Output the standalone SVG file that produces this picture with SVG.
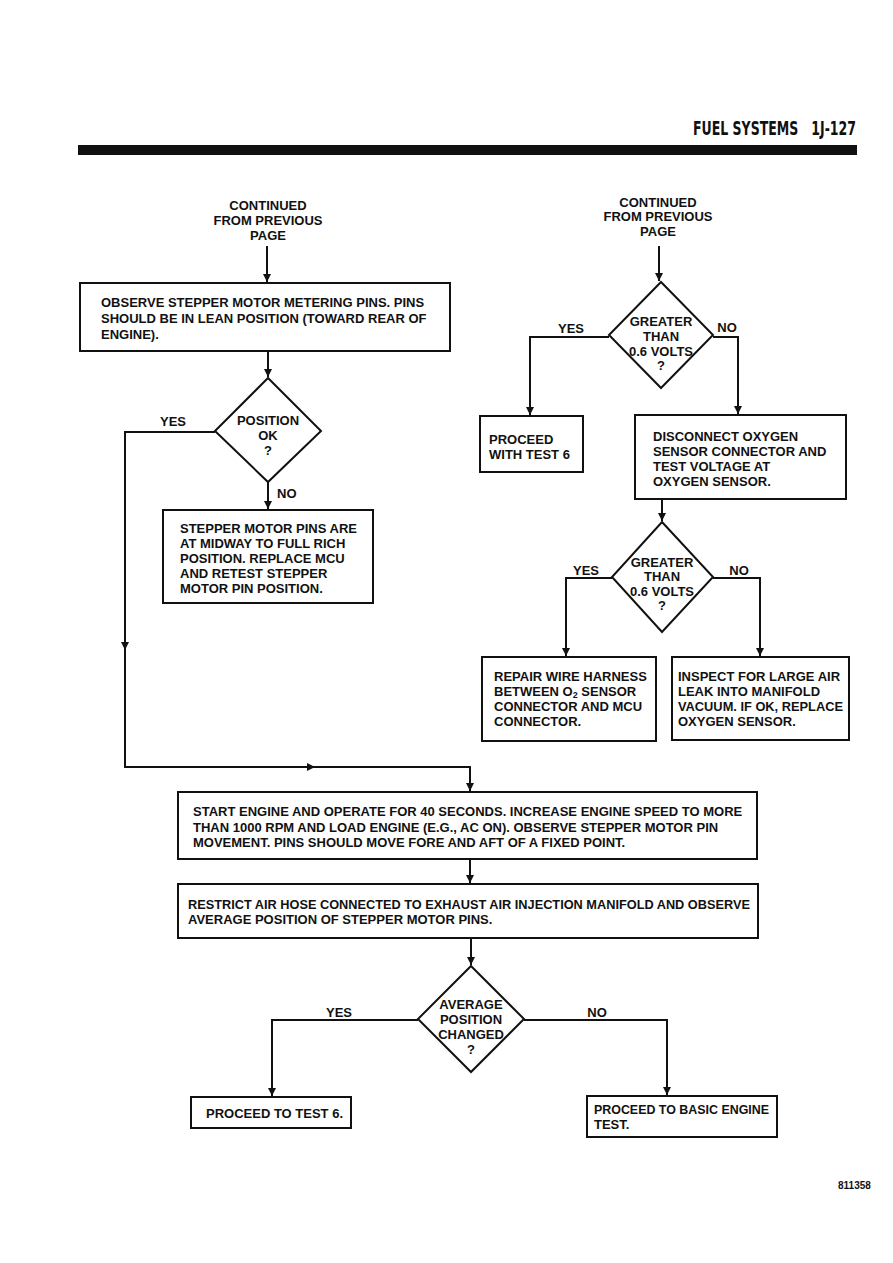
<svg xmlns="http://www.w3.org/2000/svg" width="893" height="1263" viewBox="0 0 893 1263">
<style>
text{font-family:"Liberation Sans",Arial,sans-serif;font-weight:bold;font-size:13px;fill:#111}
.c{text-anchor:middle}
.box{fill:#fff;stroke:#111;stroke-width:2}
.ln{fill:none;stroke:#111;stroke-width:2}
.hd{font-family:"DejaVu Sans Condensed","DejaVu Sans",sans-serif;font-size:15px;font-weight:bold;white-space:pre}
</style>
<defs>
<marker id="ah" markerWidth="8" markerHeight="10" refX="8" refY="5" orient="auto" markerUnits="userSpaceOnUse">
<path d="M0,1 L8,5 L0,9 Z" fill="#111"/>
</marker>
</defs>
<rect width="893" height="1263" fill="#fff"/>
<g id="header">
<text class="hd" transform="translate(693,135) scale(1,1.33)" x="0" y="0" textLength="163" lengthAdjust="spacingAndGlyphs" xml:space="preserve">FUEL SYSTEMS   1J-127</text>
<rect x="78" y="145" width="779" height="10" fill="#111"/>
</g>
<g id="connectors">
<path class="ln" d="M267,246 V282" marker-end="url(#ah)"/>
<path class="ln" d="M268,351 V377" marker-end="url(#ah)"/>
<path class="ln" d="M268,482 V509" marker-end="url(#ah)"/>
<path class="ln" d="M215,432 H125 V650" marker-end="url(#ah)"/>
<path class="ln" d="M125,645 V767 H315" marker-end="url(#ah)"/>
<path class="ln" d="M310,767 H470 V791" marker-end="url(#ah)"/>
<path class="ln" d="M659,246 V281" marker-end="url(#ah)"/>
<path class="ln" d="M609,337 H530 V415" marker-end="url(#ah)"/>
<path class="ln" d="M713,337 H738 V414" marker-end="url(#ah)"/>
<path class="ln" d="M662,499 V521" marker-end="url(#ah)"/>
<path class="ln" d="M612,578 H566 V656" marker-end="url(#ah)"/>
<path class="ln" d="M713,578 H760 V656" marker-end="url(#ah)"/>
<path class="ln" d="M470,859 V883" marker-end="url(#ah)"/>
<path class="ln" d="M471,938 V965" marker-end="url(#ah)"/>
<path class="ln" d="M418,1020 H272 V1096" marker-end="url(#ah)"/>
<path class="ln" d="M524,1020 H667 V1095" marker-end="url(#ah)"/>
<text x="173" y="426" class="c">YES</text>
<text x="277" y="498">NO</text>
<text x="571" y="333" class="c">YES</text>
<text x="727" y="332" class="c">NO</text>
<text x="586" y="575" class="c">YES</text>
<text x="739" y="575" class="c">NO</text>
<text x="339" y="1017" class="c">YES</text>
<text x="597" y="1017" class="c">NO</text>
</g>
<g id="start-left">
<text class="c" x="268" y="210">CONTINUED</text>
<text class="c" x="268" y="225">FROM PREVIOUS</text>
<text class="c" x="268" y="240">PAGE</text>
</g>
<g id="start-right">
<text class="c" x="658" y="207">CONTINUED</text>
<text class="c" x="658" y="221">FROM PREVIOUS</text>
<text class="c" x="658" y="236">PAGE</text>
</g>
<g id="observe-pins">
<rect class="box" x="80" y="283" width="370" height="68"/>
<text x="101" y="307">OBSERVE STEPPER MOTOR METERING PINS. PINS</text>
<text x="101" y="323">SHOULD BE IN LEAN POSITION (TOWARD REAR OF</text>
<text x="101" y="339">ENGINE).</text>
</g>
<g id="position-ok">
<path class="box" d="M268,378 L321,431 L268,482 L215,431 Z"/>
<text class="c" x="268" y="425">POSITION</text>
<text class="c" x="268" y="440">OK</text>
<text class="c" x="268" y="455">?</text>
</g>
<g id="replace-mcu">
<rect class="box" x="163" y="510" width="210" height="93"/>
<text x="180" y="533">STEPPER MOTOR PINS ARE</text>
<text x="180" y="548">AT MIDWAY TO FULL RICH</text>
<text x="180" y="563">POSITION. REPLACE MCU</text>
<text x="180" y="578">AND RETEST STEPPER</text>
<text x="180" y="593">MOTOR PIN POSITION.</text>
</g>
<g id="greater-1">
<path class="box" d="M661,282 L713,335 L661,388 L609,335 Z"/>
<text class="c" x="661" y="326">GREATER</text>
<text class="c" x="661" y="341">THAN</text>
<text class="c" x="661" y="356">0.6 VOLTS</text>
<text class="c" x="661" y="370">?</text>
</g>
<g id="proceed-test6-a">
<rect class="box" x="480" y="416" width="103" height="56"/>
<text x="489" y="444">PROCEED</text>
<text x="489" y="459">WITH TEST 6</text>
</g>
<g id="disconnect">
<rect class="box" x="635" y="415" width="211" height="84"/>
<text x="653" y="441">DISCONNECT OXYGEN</text>
<text x="653" y="456">SENSOR CONNECTOR AND</text>
<text x="653" y="471">TEST VOLTAGE AT</text>
<text x="653" y="486">OXYGEN SENSOR.</text>
</g>
<g id="greater-2">
<path class="box" d="M662,522 L713,577 L662,632 L612,577 Z"/>
<text class="c" x="662" y="567">GREATER</text>
<text class="c" x="662" y="581">THAN</text>
<text class="c" x="662" y="596">0.6 VOLTS</text>
<text class="c" x="662" y="610">?</text>
</g>
<g id="repair-harness">
<rect class="box" x="482" y="657" width="174" height="84"/>
<text x="494" y="681">REPAIR WIRE HARNESS</text>
<text x="494" y="696">BETWEEN O<tspan font-size="9" dy="2">2</tspan><tspan dy="-2"> SENSOR</tspan></text>
<text x="494" y="711">CONNECTOR AND MCU</text>
<text x="494" y="726">CONNECTOR.</text>
</g>
<g id="inspect-leak">
<rect class="box" x="672" y="657" width="177" height="83"/>
<text x="678" y="681">INSPECT FOR LARGE AIR</text>
<text x="678" y="696">LEAK INTO MANIFOLD</text>
<text x="678" y="711" textLength="165" lengthAdjust="spacingAndGlyphs">VACUUM. IF OK, REPLACE</text>
<text x="678" y="726">OXYGEN SENSOR.</text>
</g>
<g id="start-engine">
<rect class="box" x="178" y="792" width="579" height="67"/>
<text x="193" y="816">START ENGINE AND OPERATE FOR 40 SECONDS. INCREASE ENGINE SPEED TO MORE</text>
<text x="193" y="832">THAN 1000 RPM AND LOAD ENGINE (E.G., AC ON). OBSERVE STEPPER MOTOR PIN</text>
<text x="193" y="847">MOVEMENT. PINS SHOULD MOVE FORE AND AFT OF A FIXED POINT.</text>
</g>
<g id="restrict-air">
<rect class="box" x="178" y="884" width="580" height="54"/>
<text x="188" y="909" textLength="562" lengthAdjust="spacingAndGlyphs">RESTRICT AIR HOSE CONNECTED TO EXHAUST AIR INJECTION MANIFOLD AND OBSERVE</text>
<text x="188" y="924">AVERAGE POSITION OF STEPPER MOTOR PINS.</text>
</g>
<g id="avg-changed">
<path class="box" d="M471,966 L524,1019 L471,1072 L418,1019 Z"/>
<text class="c" x="471" y="1009">AVERAGE</text>
<text class="c" x="471" y="1024">POSITION</text>
<text class="c" x="471" y="1039">CHANGED</text>
<text class="c" x="471" y="1054">?</text>
</g>
<g id="proceed-test6-b">
<rect class="box" x="191" y="1097" width="160" height="31"/>
<text x="206" y="1118">PROCEED TO TEST 6.</text>
</g>
<g id="basic-engine">
<rect class="box" x="587" y="1096" width="190" height="41"/>
<text x="594" y="1114" textLength="175" lengthAdjust="spacingAndGlyphs">PROCEED TO BASIC ENGINE</text>
<text x="594" y="1129">TEST.</text>
</g>
<text x="838" y="1189" style="font-size:10px">811358</text>
</svg>
